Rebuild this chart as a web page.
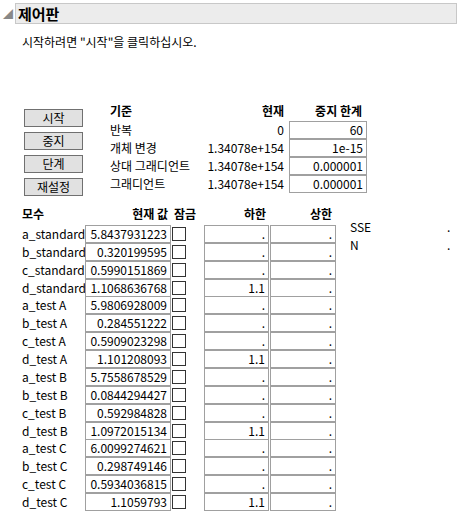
<!DOCTYPE html>
<html><head><meta charset="utf-8">
<script src="https://cdn.jsdelivr.net/npm/chart.js@4"></script>
<style>
body{margin:0;width:464px;height:517px;background:#fff;font-family:"Noto Sans CJK KR","Noto Sans",sans-serif;font-size:12px;color:#000;position:relative;overflow:hidden}
.a{position:absolute;white-space:nowrap;line-height:16px}
.box{position:absolute;border:1px solid #a0a0a0;background:#fff;text-align:right;box-sizing:border-box;padding-right:3px;line-height:15px}
.btn{position:absolute;left:24px;width:59px;height:18px;border:1px solid #707070;background:#e1e1e1;box-sizing:border-box;text-align:center;line-height:16px}
.chk{position:absolute;left:172px;width:14px;height:14px;border:1px solid #333;box-sizing:border-box;background:#fff}
b{font-weight:bold}
</style></head><body>
<script>
const criteria = ['반복','개체 변경','상대 그래디언트','그래디언트'];
const currentVals = ['0','1.34078e+154','1.34078e+154','1.34078e+154'];
const stopLimits = ['60','1e-15','0.000001','0.000001'];
const buttons = ['시작','중지','단계','재설정'];
const params = ['a_standard','b_standard','c_standard','d_standard','a_test A','b_test A','c_test A','d_test A','a_test B','b_test B','c_test B','d_test B','a_test C','b_test C','c_test C','d_test C'];
const paramVals = ['5.8437931223','0.320199595','0.5990151869','1.1068636768','5.9806928009','0.284551222','0.5909023298','1.101208093','5.7558678529','0.0844294427','0.592984828','1.0972015134','6.0099274621','0.298749146','0.5934036815','1.1059793'];
const lowerVals = ['.','.','.','1.1','.','.','.','1.1','.','.','.','1.1','.','.','.','1.1'];
const upperVals = params.map(()=> '.');

let h = '';
h += '<div class="a" style="left:3px;top:6px;color:#888;font-size:10px">&#9698;</div>';
h += '<div style="position:absolute;left:15px;top:3px;width:442px;height:21px;background:#ececec;border:1px solid #c8c8c8;box-sizing:border-box"></div>';
h += '<div class="a" style="left:18px;top:5px;font-size:15px;font-weight:bold;line-height:18px">제어판</div>';
h += '<div class="a" style="left:22px;top:34px">시작하려면 "시작"을 클릭하십시오.</div>';
buttons.forEach((b,i)=>{ h += `<div class="btn" style="top:${109+i*23}px">${b}</div>`; });
h += '<div class="a" style="left:110px;top:103px"><b>기준</b></div>';
h += '<div class="a" style="left:220px;width:64px;text-align:right;top:103px"><b>현재</b></div>';
h += '<div class="a" style="left:300px;width:62px;text-align:right;top:103px"><b>중지 한계</b></div>';
criteria.forEach((c,i)=>{
  const y = 121+i*18;
  h += `<div class="a" style="left:110px;top:${y+1}px">${c}</div>`;
  h += `<div class="a" style="left:180px;width:104px;text-align:right;top:${y+1}px">${currentVals[i]}</div>`;
  h += `<div class="box" style="left:289px;top:${y}px;width:78px;height:18px">${stopLimits[i]}</div>`;
});
h += '<div class="a" style="left:22px;top:206px"><b>모수</b></div>';
h += '<div class="a" style="left:100px;width:68px;text-align:right;top:206px"><b>현재 값</b></div>';
h += '<div class="a" style="left:174px;top:206px"><b>잠금</b></div>';
h += '<div class="a" style="left:200px;width:66px;text-align:right;top:206px"><b>하한</b></div>';
h += '<div class="a" style="left:270px;width:62px;text-align:right;top:206px"><b>상한</b></div>';
params.forEach((p,i)=>{
  const y = 225+i*17.87;
  h += `<div class="a" style="left:22px;top:${y+1}px">${p}</div>`;
  h += `<div class="box" style="left:85px;top:${y}px;width:86px;height:18px">${paramVals[i]}</div>`;
  h += `<div class="chk" style="top:${y+2}px"></div>`;
  h += `<div class="box" style="left:204px;top:${y}px;width:65px;height:18px">${lowerVals[i]}</div>`;
  h += `<div class="box" style="left:270px;top:${y}px;width:66px;height:18px">${upperVals[i]}</div>`;
});
h += '<div class="a" style="left:350px;top:219px">SSE</div><div class="a" style="left:447px;top:219px">.</div>';
h += '<div class="a" style="left:350px;top:237px">N</div><div class="a" style="left:447px;top:237px">.</div>';
document.body.insertAdjacentHTML('beforeend', h);
</script>
</body></html>
